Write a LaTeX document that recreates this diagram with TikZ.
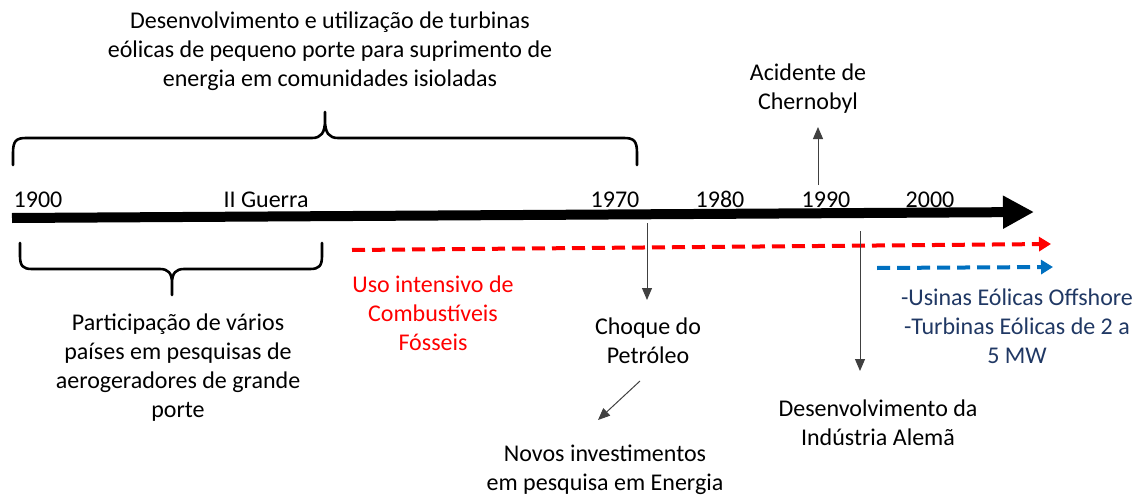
\documentclass[tikz,border=0pt]{standalone}
\usepackage{fontspec}
\setmainfont{Carlito}
\usetikzlibrary{arrows.meta}
\definecolor{cred}{HTML}{FF0000}
\definecolor{cblue}{HTML}{0070C0}
\definecolor{cnavy}{HTML}{203864}
\begin{document}
\begin{tikzpicture}[x=1pt,y=-1pt,
  lbl/.style={inner sep=0pt,align=center,font=\fontsize{24}{29}\selectfont},
  yr/.style={inner sep=0pt,anchor=base,font=\fontsize{24}{29}\selectfont},
  brace/.style={line width=2.6pt,line cap=round,line join=round},
  thinarrow/.style={line width=1pt,draw=black!75,-{Triangle[width=10pt,length=12pt]}},
  dashline/.style={line width=4pt,dash pattern=on 13pt off 7pt}
]
\useasboundingbox (0,0) rectangle (1143,495);
% top text
\node[lbl] (top) at (330,51) {Desenvolvimento e utilização de turbinas\\eólicas de pequeno porte para suprimento de\\energia em comunidades isioladas};
% top brace
\draw[brace] (13,165) -- (13,153) .. controls (13,141) and (16,138) .. (26,138) -- (312,138)
  .. controls (321,138) and (325,133) .. (325,120) -- (325,112)
  -- (325,120) .. controls (325,133) and (329,138) .. (338,138) -- (624,138)
  .. controls (634,138) and (637,141) .. (637,153) -- (637,165);
% timeline
\coordinate (tl0) at (12,218);
\coordinate (tl1) at (1034,212);
\draw[line width=10pt,-{Triangle[width=31pt,length=31pt]}] (tl0) -- (tl1);
\node[yr] (y1900) at (38,207) {1900};
\node[yr] (guerra) at (266,207) {II Guerra};
\node[yr] (y1970) at (615,207) {1970};
\node[yr] (y1980) at (720,207) {1980};
\node[yr] (y1990) at (826,207) {1990};
\node[yr] (y2000) at (930,207) {2000};
% bottom brace
\draw[brace] (20,243) -- (20,256) .. controls (20,266) and (23,269) .. (32,269) -- (160,269)
  .. controls (168,269) and (172,273) .. (172,283) -- (172,295)
  -- (172,283) .. controls (172,273) and (176,269) .. (184,269) -- (310,269)
  .. controls (319,269) and (322,266) .. (322,256) -- (322,243);
\node[lbl] (part) at (178,368) {Participação de vários\\países em pesquisas de\\aerogeradores de grande\\porte};
% red dashed
\coordinate (r0) at (352,250);
\coordinate (r1) at (1051,244);
\draw[dashline,draw=cred,-{Triangle[width=14pt,length=12pt]}] (r0) -- (r1);
\node[lbl,text=cred] (uso) at (433,313) {Uso intensivo de\\Combustíveis\\Fósseis};
% blue dashed
\coordinate (b0) at (877,268);
\coordinate (b1) at (1053,267);
\draw[dashline,draw=cblue,-{Triangle[width=14pt,length=12pt]}] (b0) -- (b1);
\node[lbl,text=cnavy] (off) at (1017,326) {-Usinas Eólicas Offshore\\-Turbinas Eólicas de 2 a\\5 MW};
% choque
\coordinate (c0) at (647,223);
\node[lbl] (choque) at (648,341) {Choque do\\Petróleo};
\draw[thinarrow] (c0) -- (647,300);
\coordinate (n0) at (640,381);
\node[lbl] (novos) at (605,470) {Novos investimentos\\em pesquisa em Energia};
\draw[thinarrow] (n0) -- (598,420);
% chernobyl
\coordinate (ch0) at (818,185);
\node[lbl] (cher) at (808,89) {Acidente de\\Chernobyl};
\draw[thinarrow] (ch0) -- (818,127);
% alema
\coordinate (a0) at (860,231);
\node[lbl] (alema) at (878,423) {Desenvolvimento da\\Indústria Alemã};
\draw[thinarrow] (a0) -- (860,371);
\end{tikzpicture}
\end{document}
